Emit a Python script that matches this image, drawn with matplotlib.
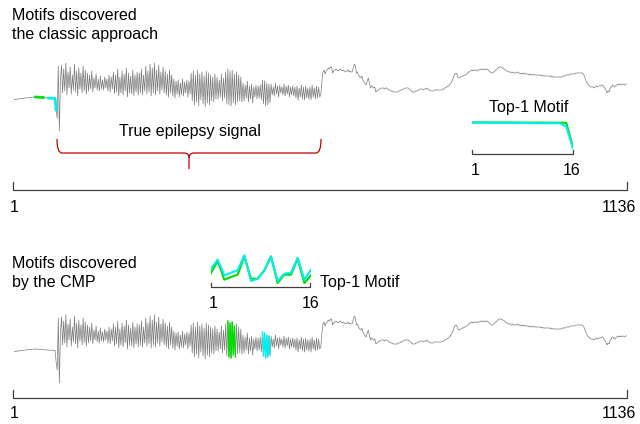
import numpy as np
import matplotlib
matplotlib.use("Agg")
import matplotlib.pyplot as plt
from matplotlib.path import Path
from matplotlib.patches import PathPatch

plt.rcParams['font.family'] = ['Liberation Sans', 'DejaVu Sans']

# EEG trace, every 2nd sample (index 1, 3, 5, ... 1135), amplitude in a.u.
flat = [35.5, 35.6, 35.8, 35.9, 36.1, 36.2, 36.3, 36.5, 36.6, 36.8,
        36.9, 37.0, 37.2, 37.3, 37.4, 37.6, 37.7, 37.8, 37.9, 38.0,
        38.0, 37.9, 37.8, 37.8, 37.7, 37.6, 37.5, 37.4, 37.3, 37.2,
        37.1, 37.0, 36.9, 36.9, 36.8, 36.8, 36.7, 36.7, 36.6]
onset = [25, 17, 69, 4, 55]
seizure = [
    70, 42, 66, 44, 72, 40, 63, 47, 68, 41, 60, 45, 71, 43, 64, 39, 67, 46, 62, 42, 69, 44, 65, 41,
    62, 44, 60, 46, 64, 43, 57, 47, 61, 45, 56, 44, 59, 46, 55, 45, 58, 47, 56, 44, 60, 43, 58, 46,
    63, 41, 60, 43, 66, 39, 58, 42, 64, 40, 61, 44, 67, 38, 62, 42, 59, 41, 65, 39, 60, 43, 63, 40,
    62, 42, 66, 40, 60, 44, 69, 41, 64, 43, 71, 39, 67, 42, 72, 40, 65, 44, 70, 41, 63, 45, 68, 42,
    64, 40, 61, 38, 65, 42, 60, 39, 56, 37, 54, 41, 55, 38, 52, 40, 56, 39, 53, 42, 55, 38, 54, 41,
    62, 34, 64, 30, 60, 33, 65, 29, 61, 35, 63, 31, 59, 28, 64, 32, 62, 30, 60, 34, 58, 33, 61, 36,
    58, 36, 55, 38, 61, 34, 57, 37, 63, 31, 66, 30, 64, 29, 65, 32, 61, 30, 63, 33, 60, 34, 58, 33,
    52, 34, 50, 37, 54, 33, 49, 36, 51, 32, 48, 38, 50, 36, 49, 37, 50, 35, 55, 31, 54, 29, 52, 30,
    51, 32, 51, 40, 48, 39, 52, 41, 49, 38, 50, 42, 48, 40, 51, 39, 49, 41, 50, 38, 48, 40, 49, 39,
    48, 37, 49, 35, 47, 38, 50, 36, 48, 35, 49, 37, 47, 36, 48, 35, 50, 38, 47, 36, 49, 37, 48, 38]
after = [
    40, 53, 63, 65, 61, 64, 65, 67, 66, 68, 68, 62, 64, 65, 66, 65, 64, 65, 66, 65,
    64, 65, 64, 63, 64, 65, 63, 64, 63, 63, 67, 71, 69, 62, 63, 60, 58, 57, 59, 55,
    53, 51, 50, 54, 57, 52, 47, 49, 48, 47, 48, 43, 44, 45, 46, 46, 47, 47, 47, 46,
    47, 47, 46, 45, 45, 44, 44, 43, 43, 43, 43, 43, 44, 44, 45, 45, 46, 46, 47, 47,
    47, 47, 46, 45, 44, 43, 43, 43, 44, 44, 45, 45, 46, 46, 46, 45, 46, 46, 47, 46,
    45, 45, 44, 44, 44, 45, 45, 45, 45, 45, 45, 45, 45, 46, 46, 47, 48, 48, 49, 50,
    51, 53, 55, 58, 61, 62, 61, 58, 57, 58, 58, 59, 59, 60, 60, 61, 62, 63, 64, 64,
    65, 64, 65, 65, 64, 65, 65, 65, 66, 65, 66, 66, 65, 66, 66, 65, 64, 63, 62, 62,
    63, 64, 65, 66, 67, 68, 68, 68, 67, 67, 66, 65, 64, 64, 63, 63, 63, 62, 63, 62,
    62, 62, 63, 62, 62, 61, 62, 61, 62, 61, 61, 61, 61, 60, 61, 60, 60, 61, 60, 60,
    60, 60, 60, 60, 59, 60, 59, 59, 59, 59, 59, 59, 59, 58, 59, 58, 58, 58, 58, 58,
    58, 58, 58, 58, 59, 59, 59, 60, 60, 60, 60, 61, 61, 61, 61, 61, 62, 62, 62, 62,
    62, 62, 62, 61, 59, 56, 53, 51, 50, 49, 48, 48, 48, 47, 48, 49, 48, 49, 49, 49,
    50, 50, 48, 47, 45, 42, 44, 43, 47, 48, 50, 49, 48, 49, 50, 51, 50, 51, 50, 51,
    51, 50, 51, 51]

# motif locations (first / last index of the 16-point window)
classic_green = (41, 56)
classic_cyan = (64, 79)
cmp_green = (397, 412)
cmp_cyan = (460, 475)

# z-normalised top-1 motif pairs, as shown in the small insets
classic_motif_green = [31.6, 31.6, 31.6, 31.5, 31.5, 31.5, 31.5, 31.4,
                       31.4, 31.4, 31.4, 31.3, 31.3, 31.3, 31.2, 7.0]
classic_motif_cyan = [31.3, 31.3, 31.2, 31.2, 31.1, 31.1, 31.0, 31.0,
                      31.0, 30.9, 30.9, 30.8, 30.8, 30.8, 27.5, 5.7]
cmp_motif_green = [14.0, 26.0, 7.3, 10.0, 12.3, 30.7, 8.3, 8.3,
                   16.7, 30.7, 4.0, 12.3, 12.3, 28.3, 4.0, 11.7]
cmp_motif_cyan = [18.3, 27.3, 11.7, 14.3, 16.7, 31.7, 6.0, 8.3,
                  16.7, 30.0, 6.0, 13.3, 14.3, 29.3, 7.3, 17.3]

n_total = 1136

signal = np.array(flat + onset + seizure + after, dtype=float)
idx = np.arange(1, 2 * len(signal), 2)

GRAY = '#7a7a7a'
GREEN = '#00dd00'
CYAN = '#00eeee'
RED = '#c00000'
DARK = '#404040'
FS = 11.5

W, H = 640, 424
fig = plt.figure(figsize=(W / 100, H / 100), dpi=100)

# overlay in pixel coordinates for brackets, brace and labels
ov = fig.add_axes([0, 0, 1, 1])
ov.set_xlim(0, W)
ov.set_ylim(H, 0)
ov.axis('off')


def signal_axes(top):
    ax = fig.add_axes([14 / W, (H - top - 80) / H, 613 / W, 80 / H])
    ax.set_xlim(1, n_total)
    ax.set_ylim(0, 80)
    ax.axis('off')
    ax.patch.set_alpha(0)
    return ax


def draw_signal(ax, green, cyan, lw_motif):
    ax.plot(idx, signal, color=GRAY, lw=0.5)
    for (a, b), c in [(green, GREEN), (cyan, CYAN)]:
        m = (idx >= a) & (idx <= b)
        ax.plot(idx[m], signal[m], color=c, lw=lw_motif)


def motif_inset(x0, x1, base, h, green, cyan):
    ax = fig.add_axes([x0 / W, (H - base) / H, (x1 - x0) / W, h / H])
    pts = np.arange(1, 17)
    ax.set_xlim(1, 16)
    ax.set_ylim(0, h)
    ax.axis('off')
    ax.patch.set_alpha(0)
    ax.plot(pts, green, color=GREEN, lw=1.5)
    ax.plot(pts, cyan, color=CYAN, lw=1.5)


def bracket(x0, x1, y, h):
    ov.plot([x0, x0, x1, x1], [y - h, y, y, y - h], color=DARK, lw=0.9)


# --- top panel: classic approach
ov.text(12, 20, 'Motifs discovered', fontsize=FS, va='baseline')
ov.text(12, 38.5, 'the classic approach', fontsize=FS, va='baseline')
draw_signal(signal_axes(55), classic_green, classic_cyan, 2)

ov.text(190, 136, 'True epilepsy signal', fontsize=FS, ha='center', va='baseline')
left = Path([(57, 139), (57, 153), (62, 153), (184, 153), (189, 153), (189, 158), (189, 169)],
            [Path.MOVETO, Path.CURVE3, Path.CURVE3, Path.LINETO, Path.CURVE3, Path.CURVE3, Path.LINETO])
right = Path([(321, 139), (321, 153), (316, 153), (194, 153), (189, 153), (189, 158)],
             [Path.MOVETO, Path.CURVE3, Path.CURVE3, Path.LINETO, Path.CURVE3, Path.CURVE3])
for p in (left, right):
    ov.add_patch(PathPatch(p, fill=False, edgecolor=RED, lw=0.9))

ov.text(529, 112, 'Top-1 Motif', fontsize=FS, ha='center', va='baseline')
motif_inset(472, 573, 154, 40, classic_motif_green, classic_motif_cyan)
bracket(472, 573, 154, 4)
ov.text(475, 175, '1', fontsize=FS, ha='center', va='baseline')
ov.text(572, 175, '16', fontsize=FS, ha='center', va='baseline')

bracket(13, 627, 190, 8)
ov.text(14, 212, '1', fontsize=FS, ha='center', va='baseline')
ov.text(636, 212, str(n_total), fontsize=FS, ha='right', va='baseline')

# --- bottom panel: CMP
ov.text(12, 268, 'Motifs discovered', fontsize=FS, va='baseline')
ov.text(12, 286.5, 'by the CMP', fontsize=FS, va='baseline')
draw_signal(signal_axes(307), cmp_green, cmp_cyan, 1.0)

motif_inset(211, 311, 287, 35, cmp_motif_green, cmp_motif_cyan)
bracket(211, 310, 287, 4)
ov.text(213, 308, '1', fontsize=FS, ha='center', va='baseline')
ov.text(311, 308, '16', fontsize=FS, ha='center', va='baseline')
ov.text(320, 287, 'Top-1 Motif', fontsize=FS, va='baseline')

bracket(13, 627, 398, 8)
ov.text(14, 418, '1', fontsize=FS, ha='center', va='baseline')
ov.text(636, 418, str(n_total), fontsize=FS, ha='right', va='baseline')

plt.savefig('out.png', dpi=100)
plt.close()
